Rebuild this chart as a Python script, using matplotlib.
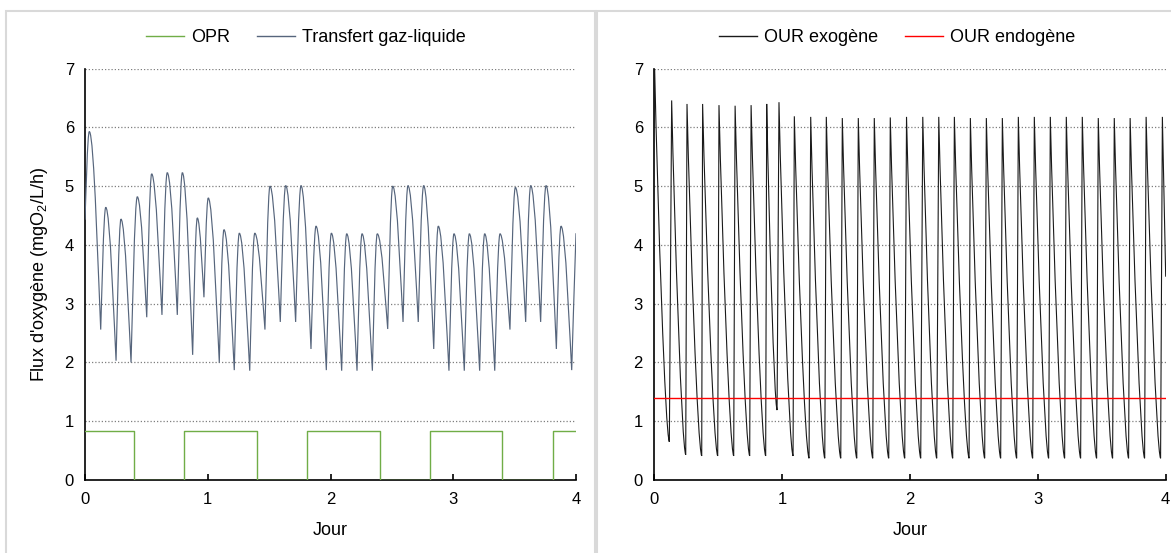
import matplotlib
matplotlib.use("Agg")
import matplotlib.pyplot as plt
from matplotlib.path import Path
from matplotlib.patches import PathPatch, Rectangle
from matplotlib.lines import Line2D

plt.rcParams['font.family'] = ['Liberation Sans', 'DejaVu Sans']
plt.rcParams['mathtext.fontset'] = 'custom'
plt.rcParams['mathtext.rm'] = 'Liberation Sans'
plt.rcParams['mathtext.it'] = 'Liberation Sans:italic'

# ---------------- data ----------------
x_ticks = [0, 1, 2, 3, 4]
y_ticks = [0, 1, 2, 3, 4, 5, 6, 7]

# Left panel: OPR (step signal)
opr_switch_day = [0.0, 0.40, 0.81, 1.40, 1.81, 2.40, 2.81, 3.40, 3.81, 4.0]
opr_level = [0.83, 0.0, 0.83, 0.0, 0.83, 0.0, 0.83, 0.0, 0.83, 0.83]

# Left panel: gas-liquid transfer, successive extrema (day, value)
transfer_day = [0.000, 0.035, 0.128, 0.169, 0.253, 0.293, 0.375, 0.426, 0.503, 0.543,
                0.627, 0.670, 0.752, 0.793, 0.877, 0.915, 0.969, 1.004, 1.094, 1.132,
                1.216, 1.257, 1.342, 1.383, 1.466, 1.507, 1.591, 1.635, 1.716, 1.760,
                1.841, 1.882, 1.966, 2.007, 2.091, 2.132, 2.216, 2.257, 2.341, 2.381,
                2.466, 2.507, 2.591, 2.631, 2.715, 2.759, 2.841, 2.878, 2.965, 3.006,
                3.090, 3.131, 3.215, 3.256, 3.338, 3.381, 3.462, 3.506, 3.590, 3.631,
                3.712, 3.756, 3.840, 3.878, 3.965, 4.000]
transfer_val = [4.43, 5.93, 2.56, 4.64, 2.03, 4.44, 2.00, 4.82, 2.77, 5.21,
                2.81, 5.23, 2.81, 5.23, 2.13, 4.46, 3.11, 4.80, 2.00, 4.26,
                1.87, 4.20, 1.86, 4.20, 2.56, 5.00, 2.69, 5.01, 2.69, 5.01,
                2.23, 4.32, 1.87, 4.20, 1.86, 4.19, 1.86, 4.19, 1.86, 4.19,
                2.57, 5.00, 2.69, 5.01, 2.69, 5.01, 2.23, 4.32, 1.86, 4.19,
                1.86, 4.19, 1.86, 4.19, 1.86, 4.19, 2.56, 4.98, 2.69, 5.01,
                2.69, 5.01, 2.23, 4.32, 1.87, 4.20]

# Right panel: exogenous OUR, troughs and following peaks
our_trough_day = [0.000, 0.120, 0.248, 0.373, 0.498, 0.623, 0.748, 0.873, 0.962, 1.087,
                  1.212, 1.335, 1.460, 1.585, 1.710, 1.835, 1.960, 2.085, 2.210, 2.335,
                  2.463, 2.585, 2.710, 2.835, 2.960, 3.085, 3.210, 3.335, 3.460, 3.585,
                  3.710, 3.835, 3.960]
our_trough_val = [6.00, 0.65, 0.43, 0.41, 0.41, 0.41, 0.41, 0.41, 1.19, 0.41,
                  0.37, 0.37, 0.37, 0.37, 0.37, 0.37, 0.37, 0.37, 0.37, 0.37,
                  0.37, 0.37, 0.37, 0.37, 0.37, 0.37, 0.37, 0.37, 0.37, 0.37,
                  0.37, 0.37, 0.37]
our_peak_day = [0.005, 0.138, 0.258, 0.380, 0.508, 0.634, 0.759, 0.881, 0.977, 1.097,
                1.225, 1.347, 1.472, 1.597, 1.722, 1.847, 1.974, 2.101, 2.226, 2.348,
                2.473, 2.598, 2.723, 2.848, 2.973, 3.098, 3.223, 3.348, 3.473, 3.598,
                3.722, 3.847, 3.974]
our_peak_val = [7.00, 6.46, 6.40, 6.40, 6.38, 6.37, 6.38, 6.40, 6.43, 6.19,
                6.18, 6.18, 6.16, 6.16, 6.16, 6.17, 6.18, 6.18, 6.18, 6.18,
                6.16, 6.16, 6.16, 6.18, 6.18, 6.18, 6.18, 6.18, 6.16, 6.16,
                6.16, 6.18, 6.18]
our_end_day, our_end_val = 4.0, 3.46

# Right panel: endogenous OUR (constant)
our_endo_day = [0.0, 4.0]
our_endo_val = [1.39, 1.39]

# ---------------- styles ----------------
C_OPR = '#70AD47'
C_TRANS = '#56657c'
C_EXO = '#1a1a1a'
C_ENDO = '#FF0000'
GRID_C = '#7f7f7f'
FS = 13
FS_TICK = 12


def smooth_path(days, vals):
    """Smooth curve through successive extrema (rounded peaks, narrower troughs)."""
    verts = [(days[0], vals[0])]
    codes = [Path.MOVETO]
    n = len(days)
    for i in range(n - 1):
        t0, v0, t1, v1 = days[i], vals[i], days[i + 1], vals[i + 1]
        dt, dv = t1 - t0, v1 - v0
        last = (i == n - 2)
        if dv > 0:  # rising trough -> peak
            c1 = (t0 + 0.18 * dt, v0 + 0.22 * dv)
            c2 = (t1 - 0.42 * dt, v1) if not last else (t1 - 0.3 * dt, v1 - 0.3 * dv)
        else:  # falling peak -> trough
            c1 = (t0 + 0.42 * dt, v0)
            c2 = (t1 - 0.18 * dt, v1 - 0.22 * dv)
        verts += [c1, c2, (t1, v1)]
        codes += [Path.CURVE4] * 3
    return Path(verts, codes)


def sawtooth_path(tr_d, tr_v, pk_d, pk_v, end_d, end_v):
    verts = [(tr_d[0], tr_v[0])]
    codes = [Path.MOVETO]
    n = len(tr_d)
    for i in range(n):
        verts.append((pk_d[i], pk_v[i]))
        codes.append(Path.LINETO)
        if i + 1 < n:
            t1, v1 = tr_d[i + 1], tr_v[i + 1]
        else:
            t1, v1 = end_d, end_v
        t0, v0 = pk_d[i], pk_v[i]
        dt, dv = t1 - t0, v0 - v1
        if i + 1 < n:
            c1 = (t0 + 0.22 * dt, v1 + 0.62 * dv)
            c2 = (t0 + 0.72 * dt, v1 + 0.02 * dv)
        else:
            c1 = (t0 + 0.33 * dt, v0 - 0.33 * dv)
            c2 = (t0 + 0.67 * dt, v1 + 0.33 * dv)
        verts += [c1, c2, (t1, v1)]
        codes += [Path.CURVE4] * 3
    return Path(verts, codes)


def style_axes(ax):
    ax.set_xlim(0, 4)
    ax.set_ylim(0, 7)
    ax.set_xticks(x_ticks)
    ax.set_yticks(y_ticks)
    ax.set_xticklabels([str(v) for v in x_ticks])
    ax.set_yticklabels([str(v) for v in y_ticks])
    for s in ['top', 'right']:
        ax.spines[s].set_visible(False)
    for s in ['left', 'bottom']:
        ax.spines[s].set_linewidth(1.2)
        ax.spines[s].set_color('black')
    ax.tick_params(axis='x', direction='in', length=4, width=1.2, pad=9, labelsize=FS_TICK)
    ax.tick_params(axis='y', direction='in', length=0, pad=8, labelsize=FS_TICK)
    for yv in y_ticks[1:]:
        ax.axhline(yv, color=GRID_C, lw=0.9, ls=(0, (1, 1.6)), zorder=0.5)
    ax.set_xlabel('Jour', fontsize=FS)
    ax.xaxis.set_label_coords(0.5, -0.103)


fig = plt.figure(figsize=(11.71, 5.53), dpi=100)
W, H = 1171.0, 553.0

# panel borders
for (x0, x1) in [(6, 595), (597, 1175)]:
    fig.patches.append(Rectangle((x0 / W, -0.05), (x1 - x0) / W, (H - 11) / H + 0.05,
                                 transform=fig.transFigure, fill=False,
                                 edgecolor='#d9d9d9', lw=1.5, clip_on=False))

axL = fig.add_axes([85 / W, (H - 480) / H, 491 / W, 411.3 / H])
axR = fig.add_axes([654 / W, (H - 480) / H, 511.7 / W, 411.3 / H])

leg_kw = dict(loc='center', ncol=2, frameon=False, fontsize=FS, handlelength=2.1,
              columnspacing=1.5, handletextpad=0.4)

# left panel
style_axes(axL)
axL.step(opr_switch_day, opr_level, where='post', color=C_OPR, lw=1.0, zorder=3)
axL.add_patch(PathPatch(smooth_path(transfer_day, transfer_val), fill=False,
                        edgecolor=C_TRANS, lw=0.85, zorder=3))
axL.set_ylabel("Flux d'oxygène (mgO$_{\\mathregular{2}}$/L/h)", fontsize=FS)
axL.yaxis.set_label_coords(-0.072, 0.5)
hL = [Line2D([], [], color=C_OPR, lw=1.0), Line2D([], [], color=C_TRANS, lw=1.0)]
axL.legend(hL, ['OPR', 'Transfert gaz-liquide'], bbox_to_anchor=(0.45, 1.075), **leg_kw)

# right panel
style_axes(axR)
axR.add_patch(PathPatch(sawtooth_path(our_trough_day, our_trough_val, our_peak_day, our_peak_val,
                                      our_end_day, our_end_val),
                        fill=False, edgecolor=C_EXO, lw=0.8, zorder=3))
axR.plot(our_endo_day, our_endo_val, color=C_ENDO, lw=1.0, zorder=4)
hR = [Line2D([], [], color=C_EXO, lw=1.0), Line2D([], [], color=C_ENDO, lw=1.0)]
axR.legend(hR, ['OUR exogène', 'OUR endogène'], bbox_to_anchor=(0.475, 1.075), **leg_kw)

fig.savefig('out.png', dpi=100)
